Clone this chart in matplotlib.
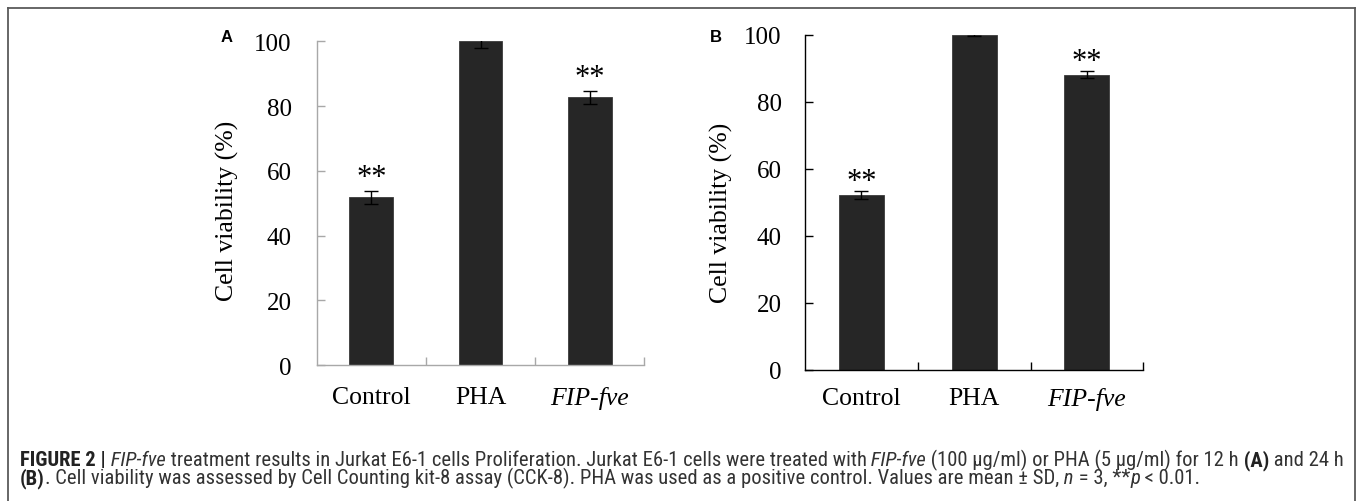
import numpy as np
import matplotlib
matplotlib.use("Agg")
import matplotlib.pyplot as plt
from matplotlib import font_manager
from matplotlib.lines import Line2D


# data
groups = ["Control", "PHA", "FIP-fve"]
mean_12h = [51.8, 100.0, 82.7]
sd_12h = [2.0, 2.0, 2.1]
mean_24h = [52.1, 100.0, 88.1]
sd_24h = [1.1, 0.3, 1.1]
signif_12h = ["**", "", "**"]
signif_24h = ["**", "", "**"]
yticks = [0, 20, 40, 60, 80, 100]

caption_1 = [
    ("FIGURE 2 |", "bold"),
    (" FIP-fve", "italic"),
    (" treatment results in Jurkat E6-1 cells Proliferation. Jurkat E6-1 cells were treated with", "normal"),
    (" FIP-fve", "italic"),
    (" (100 \u00b5g/ml) or PHA (5 \u00b5g/ml) for 12 h", "normal"),
    (" (A)", "bold"),
    (" and 24 h", "normal"),
]
caption_2 = [
    ("(B)", "bold"),
    (". Cell viability was assessed by Cell Counting kit-8 assay (CCK-8). PHA was used as a positive control. Values are mean \u00b1 SD,", "normal"),
    (" n", "italic"),
    (" = 3, **", "normal"),
    ("p", "italic"),
    (" < 0.01.", "normal"),
]

W, H = 1357, 502
SERIF = "Liberation Serif"

# caption is set in a narrow sans in the original; take the narrowest one available
have = {(f.name, f.stretch) for f in font_manager.fontManager.ttflist}
cap_font, cap_stretch = "Liberation Sans", "normal"
for name, stretch in [("Liberation Sans Narrow", "condensed"), ("Liberation Sans Narrow", "normal"),
                      ("Roboto Condensed", "normal"), ("Roboto Condensed", "condensed"),
                      ("Noto Sans", "condensed"), ("Noto Sans Condensed", "normal"),
                      ("Noto Sans Condensed", "condensed"), ("DejaVu Sans", "condensed")]:
    if (name, stretch) in have:
        cap_font, cap_stretch = name, stretch
        break
cap_color = "#333333"
STYLES = {
    "bold": dict(weight="bold", color="#222222"),
    "italic": dict(style="italic"),
    "normal": dict(),
}

fig = plt.figure(figsize=(W / 100, H / 100), dpi=100)


def panel(rect, means, sds, stars, spine_color, ylab_x, ylab_y, ypad, xpad, star_gap):
    ax = fig.add_axes(rect)
    x = np.arange(1, len(groups) + 1)
    ax.bar(x, means, width=0.4, color="#262626", edgecolor="#3a3a3a", linewidth=0.6, zorder=2)
    ax.errorbar(x, means, yerr=sds, fmt="none", ecolor="black", elinewidth=1,
                capsize=5, capthick=1, zorder=3)
    for xi, m, s, st in zip(x, means, sds, stars):
        if st:
            ax.annotate(st, xy=(xi, m + s), xytext=(0, star_gap), textcoords="offset points",
                        ha="center", va="baseline", fontsize=22, family=SERIF)
    ax.set_xlim(0.5, 3.5)
    ax.set_ylim(0, 100)
    ax.set_yticks(yticks)
    ax.set_xticks(x)
    ax.set_xticklabels(groups, fontsize=18.5, family=SERIF)
    ax.get_xticklabels()[2].set_style("italic")
    ax.set_xticks([1.5, 2.5, 3.5], minor=True)
    for lab in ax.get_yticklabels():
        lab.set_family(SERIF)
        lab.set_fontsize(18)
    ax.tick_params(axis="y", direction="in", length=6, width=1, color=spine_color, pad=ypad)
    ax.tick_params(axis="x", which="major", length=0, pad=xpad)
    ax.tick_params(axis="x", which="minor", direction="in", length=5.5, width=1, color=spine_color)
    for side in ["top", "right"]:
        ax.spines[side].set_visible(False)
    for side in ["left", "bottom"]:
        ax.spines[side].set_color(spine_color)
        ax.spines[side].set_linewidth(1)
    ax.set_ylabel("Cell viability (%)", fontsize=18.5, family=SERIF)
    ax.yaxis.set_label_coords(ylab_x, ylab_y)
    return ax


ax_a = panel([0.2334, 0.2709, 0.2414, 0.6448], mean_12h, sd_12h, signif_12h,
             "#a8a8a8", -0.238, 0.479, 18, 15, 4.0)
ax_b = panel([0.5932, 0.2616, 0.2493, 0.6673], mean_24h, sd_24h, signif_24h,
             "black", -0.212, 0.47, 16.8, 12.5, 1.5)

fig.text(226.7 / W, 1 - 37.5 / H, "A", fontsize=12, weight="bold", family="Liberation Sans",
         ha="center", va="center")
fig.text(715.7 / W, 1 - 37.5 / H, "B", fontsize=12, weight="bold", family="Liberation Sans",
         ha="center", va="center")

# frame around the figure
for xs, ys in [([8, 1355], [9, 9]), ([8, 8], [9, H]), ([1355, 1355], [9, H])]:
    fig.add_artist(Line2D([v / W for v in xs], [1 - v / H for v in ys], color="#5a5a5a", lw=1.3))


def draw_runs(x, y, runs, size):
    r = fig.canvas.get_renderer()
    texts = []
    for s, style in runs:
        kw = dict(color=cap_color)
        kw.update(STYLES[style])
        t = fig.text(x / W, 1 - y / H, s, fontsize=size, family=cap_font, fontstretch=cap_stretch,
                     va="baseline", ha="left", **kw)
        x += t.get_window_extent(r).width
        texts.append(t)
    return texts, x


size = 11
texts, end = draw_runs(20, 466, caption_1, size)
size = size * (1337 - 20) / (end - 20)
for t in texts:
    t.remove()
draw_runs(20, 466, caption_1, size)
draw_runs(20, 484, caption_2, size)

fig.savefig("out.png", dpi=100)
